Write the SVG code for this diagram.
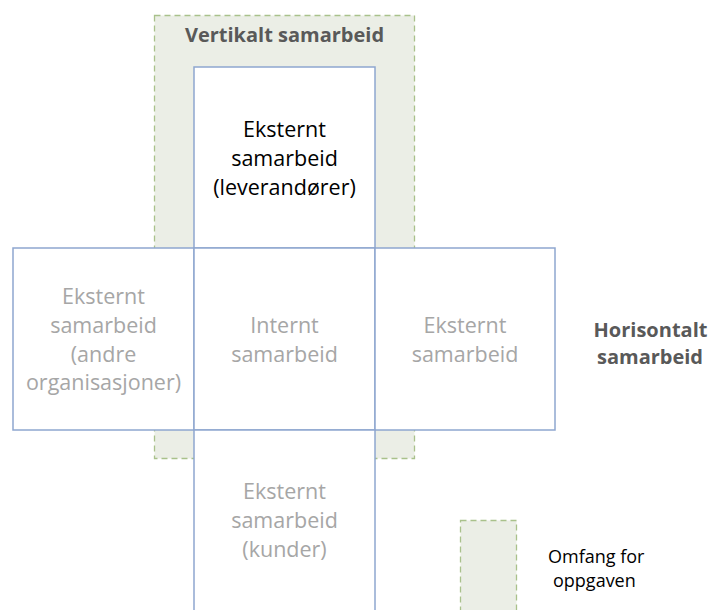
<svg xmlns="http://www.w3.org/2000/svg" width="710" height="610" viewBox="0 0 710 610">
  <style>
    .scope { fill: #EBEEE6; stroke: #A9C18B; stroke-width: 1.3; stroke-dasharray: 6 4; }
    .box { fill: #FFFFFF; stroke: #8EA7CF; stroke-width: 1.5; }
    text { font-family: "Open Sans", "Liberation Sans", sans-serif; text-anchor: middle; }
    .dim { fill: #A6A6A6; font-size: 21.5px; }
    .dark { fill: #000000; font-size: 21.5px; }
    .head { fill: #595959; font-size: 20px; font-weight: bold; }
    .legend { fill: #000000; font-size: 18px; text-anchor: start; }
  </style>

  <!-- scope of the task (dashed band) -->
  <g id="scope">
    <rect class="scope" x="154.5" y="15.5" width="260" height="443"/>
    <text class="head" x="284.5" y="42">Vertikalt samarbeid</text>
  </g>

  <g id="connectors"/>

  <g id="top">
    <rect class="box" x="194" y="67" width="181" height="181"/>
    <text class="dark" x="284.5" y="137">Eksternt</text>
    <text class="dark" x="284.5" y="166">samarbeid</text>
    <text class="dark" x="284.5" y="195">(leverandører)</text>
  </g>

  <g id="left">
    <rect class="box" x="13" y="248" width="181" height="182"/>
    <text class="dim" x="103.5" y="304">Eksternt</text>
    <text class="dim" x="103.5" y="333">samarbeid</text>
    <text class="dim" x="103.5" y="362">(andre</text>
    <text class="dim" x="103.5" y="390">organisasjoner)</text>
  </g>

  <g id="center">
    <rect class="box" x="194" y="248" width="181" height="182"/>
    <text class="dim" x="284.5" y="333">Internt</text>
    <text class="dim" x="284.5" y="362">samarbeid</text>
  </g>

  <g id="right">
    <rect class="box" x="375" y="248" width="180" height="182"/>
    <text class="dim" x="465" y="333">Eksternt</text>
    <text class="dim" x="465" y="362">samarbeid</text>
  </g>

  <g id="bottom">
    <rect class="box" x="194" y="430" width="181" height="200"/>
    <text class="dim" x="284.5" y="499">Eksternt</text>
    <text class="dim" x="284.5" y="528">samarbeid</text>
    <text class="dim" x="284.5" y="557">(kunder)</text>
  </g>

  <g id="horizontal-label">
    <text class="head" x="650.5" y="337">Horisontalt</text>
    <text class="head" x="650" y="364">samarbeid</text>
  </g>

  <g id="legend">
    <rect class="scope" x="460.5" y="520.5" width="56" height="110"/>
    <text class="legend" x="548" y="563">Omfang for</text>
    <text class="legend" x="553" y="587">oppgaven</text>
  </g>
</svg>
